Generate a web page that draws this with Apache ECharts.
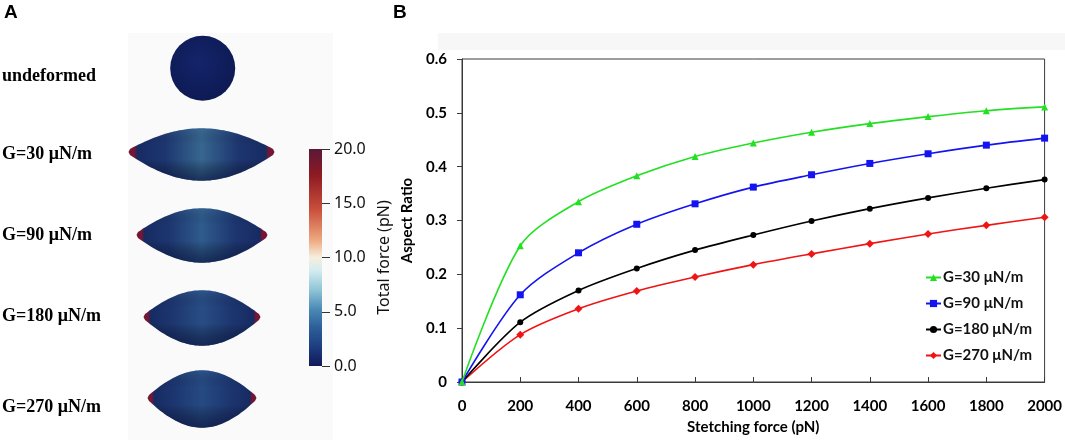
<!DOCTYPE html>
<html>
<head>
<meta charset="utf-8">
<script src="https://cdn.jsdelivr.net/npm/echarts@6/dist/echarts.min.js"></script>
<style>html,body{margin:0;padding:0;background:#fff}#c{width:1065px;height:442px}</style>
</head>
<body>
<div id="c"></div>
<script>
// ---- data ----
const forces = [0, 200, 400, 600, 800, 1000, 1200, 1400, 1600, 1800, 2000];
const seriesNames = ['G=30 μN/m', 'G=90 μN/m', 'G=180 μN/m', 'G=270 μN/m'];
const g30  = [0, 0.253, 0.335, 0.383, 0.419, 0.444, 0.464, 0.480, 0.493, 0.504, 0.511];
const g90  = [0, 0.162, 0.240, 0.293, 0.331, 0.362, 0.385, 0.406, 0.424, 0.440, 0.453];
const g180 = [0, 0.111, 0.170, 0.211, 0.245, 0.273, 0.299, 0.322, 0.342, 0.360, 0.376];
const g270 = [0, 0.088, 0.136, 0.169, 0.195, 0.218, 0.238, 0.257, 0.275, 0.291, 0.306];
const cellLabels = ['undeformed', 'G=30 μN/m', 'G=90 μN/m', 'G=180 μN/m', 'G=270 μN/m'];
const forceRange = [0, 20];   // colour bar range (pN)
const forceTickStep = 5;

// ---- styles ----
const seriesColors = ['#22e022', '#1414f0', '#000000', '#f01414'];
const seriesSymbols = ['triangle', 'rect', 'circle', 'diamond'];
const seriesSymbolSizes = [7, 7, 6, 8];
const allData = [g30, g90, g180, g270];

const chart = echarts.init(document.getElementById('c'), null, {renderer: 'canvas'});

function pairs(ys) { return forces.map((x, i) => [x, ys[i]]); }

// lens-shaped cell outline (visual only), sampled cubic curves
function cubic(p0, p1, p2, p3, n) {
  const pts = [];
  for (let k = 0; k <= n; k++) {
    const t = k / n, u = 1 - t;
    pts.push([
      u*u*u*p0[0] + 3*u*u*t*p1[0] + 3*u*t*t*p2[0] + t*t*t*p3[0],
      u*u*u*p0[1] + 3*u*u*t*p1[1] + 3*u*t*t*p2[1] + t*t*t*p3[1]
    ]);
  }
  return pts;
}
function lens(x0, x1, cy, up, down) {
  const w = x1 - x0, a = 0.36 * w, b = 3;
  const ku = up * 4 / 3, kd = down * 4 / 3;
  const top = cubic([x0, cy - b], [x0 + a, cy - ku], [x1 - a, cy - ku], [x1, cy - b], 50);
  const bot = cubic([x1, cy + b], [x1 - a, cy + kd], [x0 + a, cy + kd], [x0, cy + b], 50);
  return top.concat([[x1 + 1.5, cy]], bot, [[x0 - 1.5, cy]]);
}
function cellGrad(mid) {
  return new echarts.graphic.LinearGradient(0, 0, 1, 0, [
    {offset: 0, color: '#741634'}, {offset: 0.04, color: '#741634'},
    {offset: 0.06, color: '#172b62'}, {offset: 0.25, color: '#1d3670'},
    {offset: 0.5, color: mid}, {offset: 0.75, color: '#1d3670'},
    {offset: 0.94, color: '#172b62'}, {offset: 0.96, color: '#741634'},
    {offset: 1, color: '#741634'}
  ]);
}
function shade() {
  return new echarts.graphic.LinearGradient(0, 0, 0, 1, [
    {offset: 0, color: 'rgba(70,120,165,0.22)'}, {offset: 0.3, color: 'rgba(0,0,0,0)'},
    {offset: 0.6, color: 'rgba(0,0,0,0)'}, {offset: 1, color: 'rgba(8,16,60,0.6)'}
  ]);
}
const cells = [
  {x0: 130, x1: 273, cy: 152, up: 23, down: 28, mid: '#37668f'},
  {x0: 138, x1: 266, cy: 235, up: 26, down: 27, mid: '#2f5b8c'},
  {x0: 145, x1: 259, cy: 317, up: 26, down: 28, mid: '#284d84'},
  {x0: 149, x1: 255, cy: 398, up: 27, down: 29, mid: '#264a82'}
];
const labelY = [77, 155, 236, 317, 408];

const graphics = [
  {type: 'rect', shape: {x: 128, y: 33, width: 205, height: 407}, style: {fill: '#fafafa'}, z: -10},
  {type: 'rect', shape: {x: 438, y: 33, width: 627, height: 17}, style: {fill: '#f7f7f7'}, z: -10},
  {type: 'text', x: 4, y: 3, style: {text: 'A', font: 'bold 19px "Liberation Sans", Arial', fill: '#000'}},
  {type: 'text', x: 393, y: 3, style: {text: 'B', font: 'bold 19px "Liberation Sans", Arial', fill: '#000'}},
  {type: 'circle', shape: {cx: 202.7, cy: 68.3, r: 32.5},
   style: {fill: new echarts.graphic.RadialGradient(0.45, 0.4, 0.7, [
     {offset: 0, color: '#14246a'}, {offset: 1, color: '#0c1850'}])}}
];
cells.forEach(c => {
  const pts = lens(c.x0, c.x1, c.cy, c.up, c.down);
  graphics.push({type: 'polygon', shape: {points: pts}, style: {fill: cellGrad(c.mid)}});
  graphics.push({type: 'polygon', shape: {points: pts}, style: {fill: shade()}});
});
cellLabels.forEach((t, i) => {
  graphics.push({type: 'text', x: 2, y: labelY[i] - 10,
    style: {text: t, font: 'bold 18px "Liberation Serif", "Times New Roman", serif', fill: '#000'}});
});

const lineSeries = seriesNames.map((n, i) => ({
  name: n, type: 'line', xAxisIndex: 0, yAxisIndex: 0,
  data: pairs(allData[i]), smooth: 0.3,
  symbol: seriesSymbols[i], symbolSize: seriesSymbolSizes[i], showSymbol: true,
  lineStyle: {color: seriesColors[i], width: 1.6},
  itemStyle: {color: seriesColors[i]},
  emphasis: {disabled: true}, z: 10 - i
}));

const option = {
  animation: false,
  backgroundColor: '#ffffff',
  graphic: graphics,
  grid: [
    {left: 462, right: 19, top: 59, bottom: 60, show: true, borderColor: '#3a3a3a', borderWidth: 1, backgroundColor: '#fff'},
    {left: 309, top: 149, width: 13, height: 217}
  ],
  legend: {
    data: seriesNames, orient: 'vertical', left: 920, top: 265,
    itemWidth: 15, itemHeight: 9, itemGap: 11,
    textStyle: {fontFamily: 'Lato', fontWeight: 'bold', fontSize: 15, color: '#111', padding: [0, 0, 0, -3]}
  },
  xAxis: [
    {type: 'value', gridIndex: 0, min: 0, max: 2000, interval: 200,
     axisLine: {show: true, lineStyle: {color: '#3a3a3a', width: 1}},
     axisTick: {show: true, inside: true, length: 5, lineStyle: {color: '#3a3a3a'}},
     splitLine: {show: false},
     axisLabel: {fontFamily: 'Lato', fontWeight: 'bold', fontSize: 15, color: '#000', margin: 17,
                 formatter: v => String(v)},
     name: 'Stetching force (pN)', nameLocation: 'middle', nameGap: 38,
     nameTextStyle: {fontFamily: 'Lato', fontWeight: 'bold', fontSize: 15, color: '#000'}},
    {type: 'category', gridIndex: 1, data: ['f'], show: false}
  ],
  yAxis: [
    {type: 'value', gridIndex: 0, min: 0, max: 0.6, interval: 0.1,
     axisLine: {show: true, lineStyle: {color: '#3a3a3a', width: 1}},
     axisTick: {show: true, inside: false, length: 5, lineStyle: {color: '#3a3a3a'}},
     splitLine: {show: false},
     axisLabel: {fontFamily: 'Lato', fontWeight: 'bold', fontSize: 15, color: '#000', margin: 15,
                 formatter: v => v === 0 ? '0' : v.toFixed(1)},
     name: 'Aspect Ratio', nameLocation: 'middle', nameGap: 35, nameRotate: 90,
     nameTextStyle: {fontFamily: 'Lato', fontWeight: 'bold', fontSize: 15, color: '#000'}},
    {type: 'value', gridIndex: 1, min: forceRange[0], max: forceRange[1], interval: forceTickStep,
     position: 'right',
     axisLine: {show: false},
     axisTick: {show: true, length: 8, lineStyle: {color: '#333', width: 1}},
     splitLine: {show: false},
     axisLabel: {fontFamily: '"Noto Sans", sans-serif', fontSize: 16, color: '#111', margin: 12,
                 formatter: v => v.toFixed(1)},
     name: 'Total force (pN)', nameLocation: 'middle', nameGap: 54, nameRotate: 90,
     nameTextStyle: {fontFamily: '"Noto Sans", sans-serif', fontSize: 16, color: '#111'}}
  ],
  series: lineSeries.concat([{
    name: 'colorbar', type: 'bar', xAxisIndex: 1, yAxisIndex: 1,
    data: [forceRange[1]], barWidth: '100%', silent: true,
    itemStyle: {color: new echarts.graphic.LinearGradient(0, 0, 0, 1, [
      {offset: 0, color: '#5a1838'}, {offset: 0.12, color: '#8e1a22'},
      {offset: 0.28, color: '#c9503c'}, {offset: 0.42, color: '#eea880'},
      {offset: 0.5, color: '#f6efdf'}, {offset: 0.56, color: '#d3ecf0'},
      {offset: 0.65, color: '#8fc4d6'}, {offset: 0.74, color: '#4a89b4'},
      {offset: 0.82, color: '#2d609b'}, {offset: 0.91, color: '#1d3e80'},
      {offset: 1, color: '#10195a'}
    ])}
  }])
};
chart.setOption(option);
</script>
</body>
</html>
